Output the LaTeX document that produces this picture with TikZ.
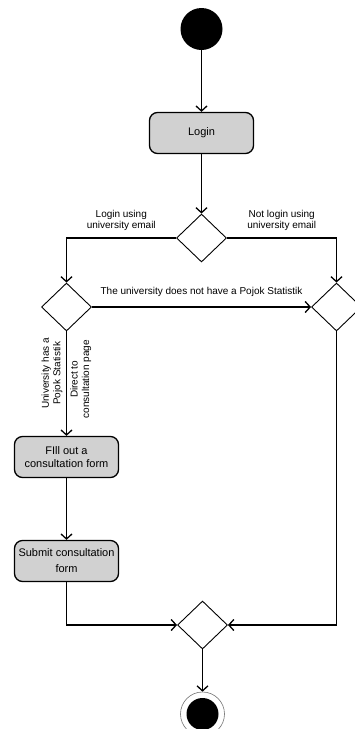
\documentclass[tikz,border=0pt]{standalone}
\usepackage{fontspec}
\setmainfont{Liberation Sans}
\usetikzlibrary{positioning,shapes.geometric,arrows.meta}
\tikzset{main node/.style={rectangle,rounded corners=8pt,draw,line width=1.3pt,fill=black!18,align=center,minimum width=104pt,minimum height=41pt,inner sep=0pt,font=\fontsize{11}{13}\selectfont} }
\tikzset{choice node/.style={diamond,draw,line width=0.9pt,minimum width=50pt,minimum height=48pt,inner sep=0pt} }
\tikzset{flow/.style={line width=1.3pt,-{Straight Barb[length=5pt,width=11pt]}} }
\tikzset{label text/.style={font=\fontsize{10}{11.5}\selectfont,align=center} }

\begin{document}
\begin{tikzpicture}
\useasboundingbox (0,0) rectangle (354pt,-729pt);
\begin{scope}[on grid]

  \node[circle,fill=black,minimum size=42pt,inner sep=0pt] (1) at (201.5pt,-29pt) {};
  \node[main node] (2) [below=104pt of 1] {Login};
  \node[choice node] (3) [below=105pt of 2] {};
  \node[choice node] (4) [below left=69pt and 135pt of 3] {};
  \node[choice node] (5) [below right=69pt and 135pt of 3] {};
  \node[main node] (6) [below=150pt of 4] {FIll out a\\consultation form};
  \node[main node] (7) [below=104pt of 6] {Submit consultation\\[3pt]form};
  \node[choice node] (8) [below right=64pt and 136pt of 7] {};
  \node[circle,draw=black!55,line width=0.6pt,minimum size=44pt,inner sep=0pt] (9) [below=89pt of 8] {};
  \node[circle,fill=black,minimum size=32pt,inner sep=0pt] (10) at (9) {};

  \draw[flow] (1) -- (2);
  \draw[flow] (2) -- (3.north);
  \draw[flow] (3.west) -| node[label text,pos=0.25,above=3pt] {Login using\\university email} (4.north);
  \draw[flow] (3.east) -| node[label text,pos=0.25,above=3pt] {Not login using\\university email} (5.north);
  \draw[flow] (4.east) -- node[label text,above=6pt] {The university does not have a Pojok Statistik} (5.west);
  \draw[flow] (4.south) -- node[label text,rotate=90,above=3pt,pos=0.43] {University has a\\Pojok Statistik}
                           node[label text,rotate=90,below=3pt,pos=0.43] {Direct to\\consultation page} (6);
  \draw[flow] (6) -- (7);
  \draw[flow] (7.south) |- (8.west);
  \draw[flow] (5.south) |- (8.east);
  \draw[flow] (8.south) -- (9.north);

\end{scope}
\end{tikzpicture}
\end{document}
